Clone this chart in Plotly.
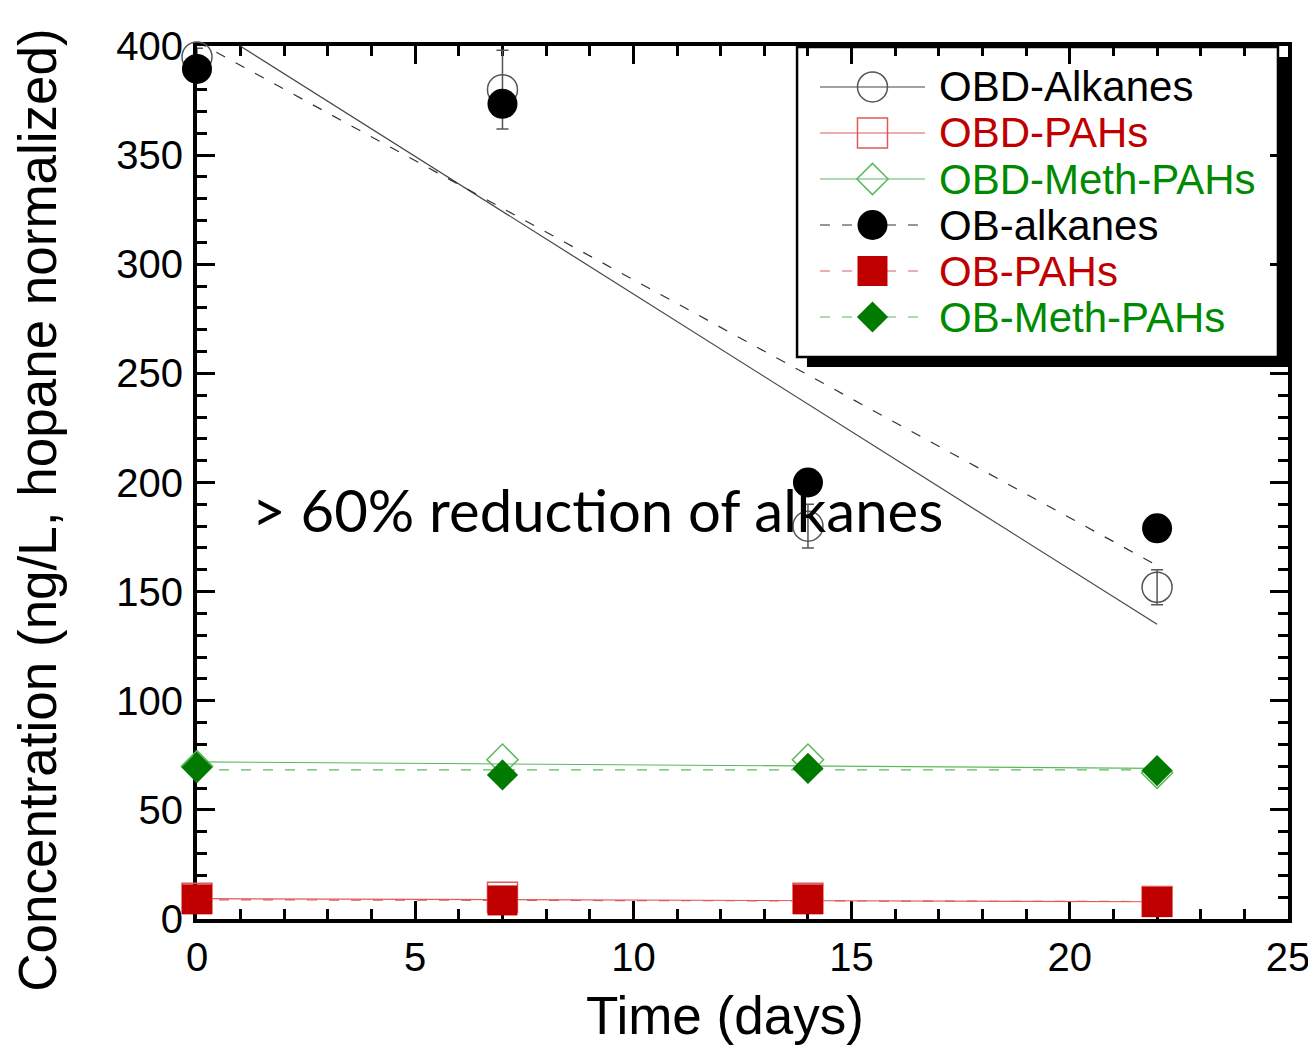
import plotly.graph_objects as go

# ---------------- data ----------------
days = [0, 7, 14, 22]
obd_alkanes = [395, 380, 180, 152]
obd_alkanes_err = [4, 18, 10, 8]
obd_pahs = [9.5, 10, 9.5, 8]
obd_meth_pahs = [70, 73, 73, 67]
ob_alkanes = [389.5, 373.5, 200, 179]
ob_pahs = [9, 8.5, 9, 7.8]
ob_meth_pahs = [69.5, 66, 69, 68]

fit_days = [0, 22]
obd_alkanes_fit = [412.5, 135]
ob_alkanes_fit = [402, 162]
obd_pahs_fit = [9.3, 7.9]
ob_pahs_fit = [8.8, 8.0]
obd_meth_fit = [72, 69]
ob_meth_fit = [68.3, 68.3]

series_names = ["OBD-Alkanes", "OBD-PAHs", "OBD-Meth-PAHs",
                "OB-alkanes", "OB-PAHs", "OB-Meth-PAHs"]
x_ticks = [0, 5, 10, 15, 20, 25]
y_ticks = [0, 50, 100, 150, 200, 250, 300, 350, 400]

# ---------------- styles ----------------
BLACK = "#000000"
GREY = "#555555"
RED = "#c00000"
RED_LIGHT = "#e05a5a"
GREEN = "#007a00"
GREEN_LIGHT = "#5cb85c"
TEXT_RED = "#c00000"
TEXT_GREEN = "#008a00"

styles = {
    "OBD-Alkanes": dict(symbol="circle-open", size=30, mcolor=GREY, lcolor="#444444", dash="solid", lw=1.2, text=BLACK),
    "OBD-PAHs": dict(symbol="square-open", size=30, mcolor=RED_LIGHT, lcolor=RED_LIGHT, dash="solid", lw=1.2, text=TEXT_RED),
    "OBD-Meth-PAHs": dict(symbol="diamond-open", size=24, mcolor=GREEN_LIGHT, lcolor=GREEN_LIGHT, dash="solid", lw=1.2, text=TEXT_GREEN),
    "OB-alkanes": dict(symbol="circle", size=30, mcolor=BLACK, lcolor="#333333", dash="10px,12px", lw=1.2, text=BLACK),
    "OB-PAHs": dict(symbol="square", size=30, mcolor=RED, lcolor=RED_LIGHT, dash="10px,12px", lw=1.2, text=TEXT_RED),
    "OB-Meth-PAHs": dict(symbol="diamond", size=24, mcolor=GREEN, lcolor=GREEN_LIGHT, dash="10px,12px", lw=1.2, text=TEXT_GREEN),
}

values = {
    "OBD-Alkanes": obd_alkanes, "OBD-PAHs": obd_pahs, "OBD-Meth-PAHs": obd_meth_pahs,
    "OB-alkanes": ob_alkanes, "OB-PAHs": ob_pahs, "OB-Meth-PAHs": ob_meth_pahs,
}
fits = {
    "OBD-Alkanes": obd_alkanes_fit, "OBD-PAHs": obd_pahs_fit, "OBD-Meth-PAHs": obd_meth_fit,
    "OB-alkanes": ob_alkanes_fit, "OB-PAHs": ob_pahs_fit, "OB-Meth-PAHs": ob_meth_fit,
}

fig = go.Figure()

# fit lines
for name in series_names:
    st = styles[name]
    fig.add_trace(go.Scatter(
        x=fit_days, y=fits[name], mode="lines",
        line=dict(color=st["lcolor"], width=st["lw"], dash=st["dash"]),
        showlegend=False, hoverinfo="skip"))

# markers
for name in series_names:
    st = styles[name]
    open_sym = st["symbol"].endswith("open")
    kw = {}
    if name == "OBD-Alkanes":
        kw["error_y"] = dict(type="data", array=obd_alkanes_err, visible=True,
                             color=GREY, thickness=1.5, width=6)
    fig.add_trace(go.Scatter(
        x=days, y=values[name], mode="markers", name=name,
        marker=dict(symbol=st["symbol"], size=st["size"], color=st["mcolor"],
                    line=dict(color=st["mcolor"], width=1.5 if open_sym else 0)),
        cliponaxis=False, showlegend=False, **kw))

# ---------------- manual legend (library axes) ----------------
for i, name in enumerate(series_names):
    st = styles[name]
    open_sym = st["symbol"].endswith("open")
    fig.add_trace(go.Scatter(
        x=[0, 1], y=[i, i], mode="lines", xaxis="x2", yaxis="y2",
        line=dict(color=st["lcolor"], width=st["lw"], dash=st["dash"]),
        showlegend=False, hoverinfo="skip"))
    fig.add_trace(go.Scatter(
        x=[0.5], y=[i], mode="markers", xaxis="x2", yaxis="y2",
        marker=dict(symbol=st["symbol"], size=st["size"], color=st["mcolor"],
                    line=dict(color=st["mcolor"], width=1.5 if open_sym else 0)),
        cliponaxis=False, showlegend=False, hoverinfo="skip"))

annotations = []
for i, name in enumerate(series_names):
    annotations.append(dict(
        text=name, xref="paper", yref="y2", x=0.6783, y=i,
        xanchor="left", yanchor="middle", showarrow=False,
        font=dict(family="Liberation Sans, Arial", size=42, color=styles[name]["text"])))

# titles & note
annotations.append(dict(text="Time (days)", xref="paper", yref="paper", x=0.484, y=-0.111,
                        xanchor="center", yanchor="middle", showarrow=False,
                        font=dict(family="Liberation Sans, Arial", size=53, color=BLACK)))
annotations.append(dict(text="Concentration (ng/L, hopane normalized)", xref="paper", yref="paper",
                        x=-0.146, y=0.4685, textangle=-90, xanchor="center", yanchor="middle",
                        showarrow=False,
                        font=dict(family="Liberation Sans, Arial", size=53, color=BLACK)))
annotations.append(dict(text="> 60% reduction of alkanes", xref="paper", yref="paper",
                        x=0.0486, y=0.4685, xanchor="left", yanchor="middle", showarrow=False,
                        font=dict(family="Lato, Carlito, Calibri", size=58, color=BLACK)))

shapes = [
    # legend shadow
    dict(type="rect", xref="paper", yref="paper", layer="below",
         x0=0.5591, x1=1.0, y0=0.6323, y1=0.9874,
         fillcolor=BLACK, line=dict(width=0)),
    # legend box
    dict(type="rect", xref="paper", yref="paper", layer="below",
         x0=0.5500, x1=0.9908, y0=0.6438, y1=0.9989,
         fillcolor="white", line=dict(color=BLACK, width=2.5)),
]

axis_common = dict(
    showline=True, linecolor=BLACK, linewidth=4, mirror="ticks",
    ticks="inside", ticklen=18, tickwidth=3, tickcolor=BLACK,
    showgrid=False, zeroline=False, layer="below traces",
    tickfont=dict(family="Liberation Sans, Arial", size=40, color=BLACK),
    minor=dict(ticks="inside", ticklen=10, tickwidth=2.5, tickcolor=BLACK, showgrid=False),
)

fig.update_layout(
    width=1316, height=1048,
    margin=dict(l=189, r=36, t=38, b=137),
    paper_bgcolor="white", plot_bgcolor="rgba(0,0,0,0)",
    showlegend=False,
    xaxis=dict(range=[0, 25], tickvals=x_ticks, ticktext=[str(v) for v in x_ticks],
               minor_dtick=1, ticklabelstandoff=0, **axis_common),
    yaxis=dict(range=[0, 400], tickvals=y_ticks, ticktext=[str(v) for v in y_ticks],
               minor_dtick=10, ticklabelstandoff=2, **axis_common),
    xaxis2=dict(domain=[0.5710, 0.6673], range=[0, 1], visible=False, anchor="y2"),
    yaxis2=dict(domain=[0.6632, 0.9794], range=[5.5, -0.5], visible=False, anchor="x2"),
    annotations=annotations,
    shapes=shapes,
)

fig.write_html("out.html")
